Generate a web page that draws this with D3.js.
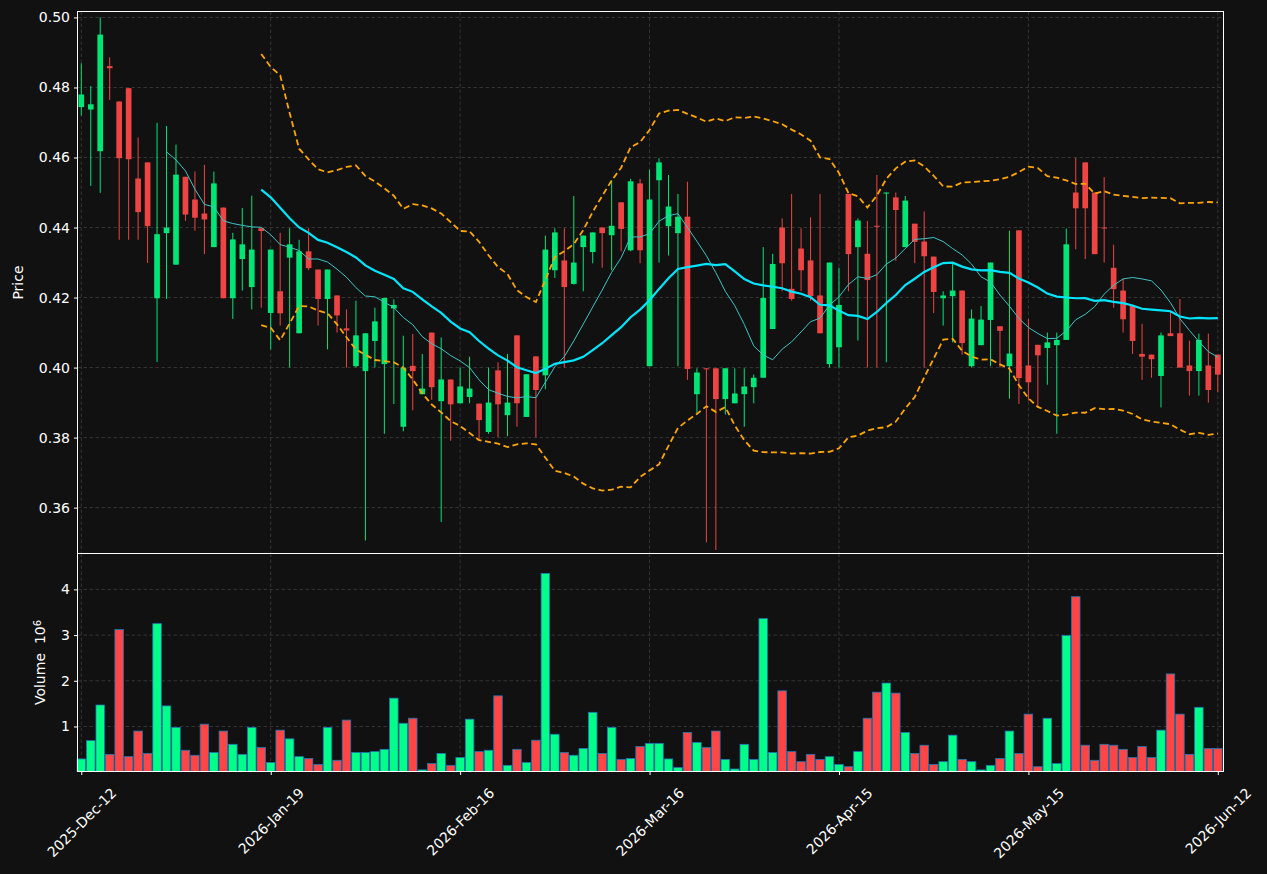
<!DOCTYPE html>
<html>
<head>
<meta charset="utf-8">
<script src="https://cdn.jsdelivr.net/npm/d3@7"></script>
<style>
  html, body { margin: 0; background: #111111; }
  svg text { font-family: 'DejaVu Sans', sans-serif; fill: #ffffff; }
</style>
</head>
<body>
<div id="chart"></div>
<script>
// x tick labels (every 20th session)
const tickIdx = [0, 20, 40, 60, 80, 100, 120]
const tickLabels = ['2025-Dec-12', '2026-Jan-19', '2026-Feb-16', '2026-Mar-16', '2026-Apr-15', '2026-May-15', '2026-Jun-12']

const opens = [
  0.4744, 0.4737, 0.4618, 0.4861, 0.4760, 0.4798, 0.4540, 0.4586, 0.4198, 0.4384,
  0.4294, 0.4545, 0.4480, 0.4440, 0.4344, 0.4457, 0.4198, 0.4310, 0.4230, 0.4398,
  0.4156, 0.4218, 0.4314, 0.4098, 0.4332, 0.4280, 0.4196, 0.4206, 0.4112, 0.4004,
  0.3990, 0.4076, 0.4010, 0.4169, 0.3831, 0.4005, 0.3924, 0.4100, 0.3904, 0.3966,
  0.3898, 0.3916, 0.3897, 0.3816, 0.3992, 0.3864, 0.4092, 0.3859, 0.4032, 0.3978,
  0.4278, 0.4306, 0.4239, 0.4344, 0.4330, 0.4400, 0.4378, 0.4472, 0.4335, 0.4526,
  0.4004, 0.4535, 0.4404, 0.4384, 0.4431, 0.3924, 0.3998, 0.3998, 0.3910, 0.3898,
  0.3924, 0.3944, 0.3971, 0.4110, 0.4400, 0.4225, 0.4340, 0.4306, 0.4206, 0.4010,
  0.4058, 0.4496, 0.4344, 0.4325, 0.4405, 0.4497, 0.4486, 0.4344, 0.4411, 0.4360,
  0.4317, 0.4198, 0.4204, 0.4220, 0.4004, 0.4064, 0.4136, 0.4118, 0.4004, 0.4392,
  0.4006, 0.4065, 0.4056, 0.4064, 0.4079, 0.4500, 0.4586, 0.4500, 0.4400, 0.4285,
  0.4220, 0.4176, 0.4039, 0.4037, 0.3976, 0.4098, 0.4098, 0.4006, 0.3990, 0.4006,
  0.4037
]
const highs = [
  0.4869, 0.4804, 0.5000, 0.4886, 0.4760, 0.4798, 0.4657, 0.4586, 0.4699, 0.4690,
  0.4637, 0.4545, 0.4560, 0.4579, 0.4560, 0.4457, 0.4385, 0.4456, 0.4491, 0.4398,
  0.4337, 0.4385, 0.4398, 0.4365, 0.4398, 0.4280, 0.4280, 0.4206, 0.4166, 0.4191,
  0.4098, 0.4171, 0.4199, 0.4195, 0.4091, 0.4096, 0.4039, 0.4100, 0.4086, 0.3966,
  0.4000, 0.4031, 0.3897, 0.4000, 0.4015, 0.4039, 0.4092, 0.3981, 0.4032, 0.4377,
  0.4398, 0.4398, 0.4490, 0.4377, 0.4386, 0.4400, 0.4535, 0.4472, 0.4539, 0.4539,
  0.4565, 0.4598, 0.4550, 0.4496, 0.4531, 0.3998, 0.3998, 0.3998, 0.3998, 0.3998,
  0.3998, 0.3980, 0.4344, 0.4325, 0.4426, 0.4496, 0.4398, 0.4429, 0.4496, 0.4300,
  0.4285, 0.4496, 0.4426, 0.4419, 0.4550, 0.4500, 0.4500, 0.4490, 0.4411, 0.4446,
  0.4317, 0.4218, 0.4300, 0.4220, 0.4166, 0.4176, 0.4300, 0.4118, 0.4391, 0.4392,
  0.4139, 0.4065, 0.4100, 0.4100, 0.4397, 0.4599, 0.4586, 0.4500, 0.4544, 0.4351,
  0.4254, 0.4176, 0.4125, 0.4037, 0.4100, 0.4159, 0.4196, 0.4077, 0.4097, 0.4097,
  0.4037
]
const lows = [
  0.4720, 0.4519, 0.4499, 0.4764, 0.4365, 0.4365, 0.4365, 0.4299, 0.4016, 0.4196,
  0.4294, 0.4419, 0.4391, 0.4324, 0.4344, 0.4198, 0.4139, 0.4220, 0.4166, 0.4171,
  0.4052, 0.4120, 0.4000, 0.4098, 0.4278, 0.4120, 0.4052, 0.4100, 0.4000, 0.4000,
  0.3506, 0.4000, 0.3811, 0.3896, 0.3818, 0.3878, 0.3924, 0.3908, 0.3559, 0.3791,
  0.3898, 0.3898, 0.3791, 0.3811, 0.3801, 0.3804, 0.3831, 0.3859, 0.3801, 0.3938,
  0.4256, 0.4000, 0.4237, 0.4218, 0.4298, 0.4285, 0.4278, 0.4332, 0.4332, 0.4298,
  0.4004, 0.4300, 0.4320, 0.4004, 0.3965, 0.3870, 0.3501, 0.3479, 0.3866, 0.3898,
  0.3831, 0.3898, 0.3971, 0.4110, 0.4218, 0.4191, 0.4218, 0.4191, 0.4098, 0.4000,
  0.4000, 0.4218, 0.4077, 0.4000, 0.4000, 0.4015, 0.4305, 0.4344, 0.4298, 0.4000,
  0.4156, 0.4120, 0.4072, 0.4037, 0.4000, 0.4064, 0.4004, 0.4000, 0.3911, 0.3896,
  0.3906, 0.3886, 0.3951, 0.3811, 0.4079, 0.4338, 0.4310, 0.4324, 0.4300, 0.4171,
  0.4100, 0.4039, 0.3965, 0.3971, 0.3886, 0.4090, 0.4000, 0.3920, 0.3920, 0.3900,
  0.3930
]
const closes = [
  0.4780, 0.4752, 0.4951, 0.4855, 0.4598, 0.4595, 0.4444, 0.4404, 0.4381, 0.4400,
  0.4551, 0.4437, 0.4428, 0.4423, 0.4526, 0.4198, 0.4366, 0.4352, 0.4337, 0.4390,
  0.4337, 0.4155, 0.4352, 0.4332, 0.4284, 0.4196, 0.4280, 0.4149, 0.4106, 0.4092,
  0.4098, 0.4132, 0.4199, 0.4179, 0.4000, 0.3990, 0.3940, 0.3944, 0.3966, 0.3895,
  0.3946, 0.3940, 0.3850, 0.3900, 0.3895, 0.3900, 0.3898, 0.3981, 0.3936, 0.4337,
  0.4386, 0.4230, 0.4300, 0.4377, 0.4386, 0.4384, 0.4405, 0.4396, 0.4532, 0.4335,
  0.4480, 0.4586, 0.4460, 0.4431, 0.3996, 0.3986, 0.3995, 0.3910, 0.3998, 0.3926,
  0.3946, 0.3971, 0.4199, 0.4296, 0.4298, 0.4196, 0.4278, 0.4204, 0.4098, 0.4300,
  0.4179, 0.4324, 0.4420, 0.4250, 0.4403, 0.4500, 0.4450, 0.4477, 0.4359, 0.4318,
  0.4216, 0.4206, 0.4220, 0.4070, 0.4140, 0.4137, 0.4300, 0.4105, 0.4040, 0.3970,
  0.3958, 0.4035, 0.4072, 0.4079, 0.4352, 0.4455, 0.4455, 0.4324, 0.4398, 0.4224,
  0.4138, 0.4076, 0.4031, 0.4024, 0.4092, 0.4090, 0.4000, 0.3990, 0.4079, 0.3936,
  0.3980
]
// volume in millions
const volumes = [
  0.29, 0.69, 1.47, 0.39, 3.12, 0.34, 0.90, 0.41, 3.25, 1.45,
  0.98, 0.48, 0.37, 1.05, 0.43, 0.90, 0.61, 0.39, 0.98, 0.54,
  0.21, 0.92, 0.73, 0.34, 0.30, 0.17, 0.98, 0.26, 1.14, 0.43,
  0.43, 0.45, 0.50, 1.62, 1.07, 1.18, 0.05, 0.19, 0.41, 0.15,
  0.32, 1.16, 0.45, 0.48, 1.67, 0.15, 0.50, 0.21, 0.70, 4.35,
  0.83, 0.43, 0.37, 0.52, 1.31, 0.41, 0.98, 0.28, 0.30, 0.56,
  0.63, 0.63, 0.29, 0.10, 0.87, 0.65, 0.54, 0.90, 0.28, 0.07,
  0.61, 0.28, 3.36, 0.43, 1.78, 0.45, 0.23, 0.39, 0.28, 0.34,
  0.17, 0.12, 0.45, 1.18, 1.75, 1.95, 1.73, 0.87, 0.41, 0.59,
  0.17, 0.23, 0.81, 0.28, 0.23, 0.05, 0.15, 0.30, 0.90, 0.41,
  1.27, 0.12, 1.18, 0.19, 2.99, 3.84, 0.59, 0.26, 0.61, 0.59,
  0.50, 0.32, 0.56, 0.32, 0.92, 2.15, 1.27, 0.39, 1.42, 0.52,
  0.52
]

const priceTicks = [0.36, 0.38, 0.40, 0.42, 0.44, 0.46, 0.48, 0.50]
const volTicks = [1, 2, 3, 4]

const COLORS = {
  bg: '#111111',
  grid: '#3d3d3d',
  up: '#00e676',
  down: '#ef4444',
  volUp: '#00ff88',
  volDown: '#ff4545',
  volEdge: '#1f77b4',
  ma20: '#00e5ff',
  ma10: '#3cc6c6',
  band: '#ffa500'
}

const W = 1267
const H = 874
const left = 77.5
const right = 1223.5
const priceTop = 11.5
const priceBottom = 553.5
const volBottom = 771.5

const n = closes.length
const data = closes.map((c, i) => ({
  i, open: opens[i], high: highs[i], low: lows[i], close: c, vol: volumes[i]
}))

// rolling stats
function rolling (win, fn) {
  return closes.map((c, i) => i < win - 1 ? null : fn(closes.slice(i - win + 1, i + 1)))
}
const ma10 = rolling(10, d3.mean)
const ma20 = rolling(20, d3.mean)
const sd20 = rolling(20, d3.deviation)
const upper = ma20.map((m, i) => m === null ? null : m + 2 * sd20[i])
const lower = ma20.map((m, i) => m === null ? null : m - 2 * sd20[i])

const svg = d3.select('#chart').append('svg')
  .attr('width', W)
  .attr('height', H)
  .style('background', COLORS.bg)

const x = d3.scaleLinear().domain([-0.4, n - 0.4]).range([left, right])
const y = d3.scaleLinear().domain([0.3469, 0.5017]).range([priceBottom, priceTop])
const yVol = d3.scaleLinear()
  .domain([0.3 * d3.min(volumes), 1.1 * d3.max(volumes)])
  .range([volBottom, priceBottom])

const step = x(1) - x(0)

// grid
function grid (g, ys, scale, top, bottom) {
  g.selectAll('.hgrid').data(ys).join('line')
    .attr('x1', left).attr('x2', right)
    .attr('y1', d => scale(d)).attr('y2', d => scale(d))
  g.selectAll('.vgrid').data(tickIdx).join('line')
    .attr('x1', d => x(d)).attr('x2', d => x(d))
    .attr('y1', top).attr('y2', bottom)
}
const gridG = svg.append('g')
  .attr('stroke', COLORS.grid)
  .attr('stroke-width', 0.8)
  .attr('stroke-dasharray', '3.5,2.5')
grid(gridG.append('g'), priceTicks, y, priceTop, priceBottom)
grid(gridG.append('g'), volTicks, yVol, priceBottom, volBottom)

// candles
const candles = svg.append('g')
candles.selectAll('line').data(data).join('line')
  .attr('x1', d => x(d.i)).attr('x2', d => x(d.i))
  .attr('y1', d => y(d.high)).attr('y2', d => y(d.low))
  .attr('stroke', d => d.close >= d.open ? COLORS.up : COLORS.down)
  .attr('stroke-width', 1)
candles.selectAll('rect').data(data).join('rect')
  .attr('x', d => x(d.i) - step * 0.3)
  .attr('width', step * 0.6)
  .attr('y', d => y(Math.max(d.open, d.close)))
  .attr('height', d => Math.max(1, Math.abs(y(d.open) - y(d.close))))
  .attr('fill', d => d.close >= d.open ? COLORS.up : COLORS.down)

// moving averages and bands
const line = d3.line()
  .defined(d => d !== null)
  .x((d, i) => x(i))
  .y(d => y(d))

svg.append('path').datum(ma10)
  .attr('d', line).attr('fill', 'none')
  .attr('stroke', COLORS.ma10).attr('stroke-width', 1)
svg.append('path').datum(ma20)
  .attr('d', line).attr('fill', 'none')
  .attr('stroke', COLORS.ma20).attr('stroke-width', 2.2)
for (const band of [upper, lower]) {
  svg.append('path').datum(band)
    .attr('d', line).attr('fill', 'none')
    .attr('stroke', COLORS.band).attr('stroke-width', 1.8)
    .attr('stroke-dasharray', '6,3.5')
}

// volume bars
svg.append('g').selectAll('rect').data(data).join('rect')
  .attr('x', d => x(d.i) - step * 0.45)
  .attr('width', step * 0.9)
  .attr('y', d => yVol(d.vol))
  .attr('height', d => volBottom - yVol(d.vol))
  .attr('fill', d => d.close >= d.open ? COLORS.volUp : COLORS.volDown)
  .attr('stroke', COLORS.volEdge)
  .attr('stroke-width', 0.8)

// axes
function styleAxis (g) {
  g.select('.domain').remove()
  g.selectAll('.tick line').attr('stroke', '#ffffff')
  g.selectAll('.tick text').attr('fill', '#ffffff').style('font-size', '14px')
}

svg.append('g')
  .attr('transform', `translate(${left},0)`)
  .call(d3.axisLeft(y).tickValues(priceTicks).tickFormat(d3.format('.2f')).tickSize(3.5).tickPadding(4))
  .call(styleAxis)

svg.append('g')
  .attr('transform', `translate(${left},0)`)
  .call(d3.axisLeft(yVol).tickValues(volTicks).tickFormat(d3.format('d')).tickSize(3.5).tickPadding(4))
  .call(styleAxis)

const xAxis = svg.append('g')
  .attr('transform', `translate(0,${volBottom})`)
  .call(d3.axisBottom(x).tickValues(tickIdx).tickFormat((d, i) => tickLabels[i]).tickSize(3.5))
  .call(styleAxis)

// rotate labels 45deg, bbox centred under the tick, top at a fixed offset
xAxis.selectAll('.tick text').each(function () {
  const t = d3.select(this)
  const len = this.getComputedTextLength()
  const side = (len + 14) * Math.SQRT1_2
  t.attr('y', 0).attr('dy', '0.35em')
    .attr('text-anchor', 'middle')
    .attr('transform', `translate(0,${14 + side / 2}) rotate(-45)`)
})

// frame
svg.append('rect')
  .attr('x', left).attr('y', priceTop)
  .attr('width', right - left).attr('height', volBottom - priceTop)
  .attr('fill', 'none').attr('stroke', '#ffffff').attr('stroke-width', 1)
svg.append('line')
  .attr('x1', left).attr('x2', right)
  .attr('y1', priceBottom).attr('y2', priceBottom)
  .attr('stroke', '#ffffff').attr('stroke-width', 1)

// axis titles
svg.append('text')
  .attr('transform', `translate(23,${(priceTop + priceBottom) / 2}) rotate(-90)`)
  .attr('text-anchor', 'middle')
  .style('font-size', '14px')
  .text('Price')

const volLabel = svg.append('text')
  .attr('transform', `translate(45,${(priceBottom + volBottom) / 2}) rotate(-90)`)
  .attr('text-anchor', 'middle')
  .style('font-size', '14px')
volLabel.append('tspan').text('Volume\u00a0\u00a010')
volLabel.append('tspan').attr('dy', '-0.45em').style('font-size', '10px').text('6')
</script>
</body>
</html>
